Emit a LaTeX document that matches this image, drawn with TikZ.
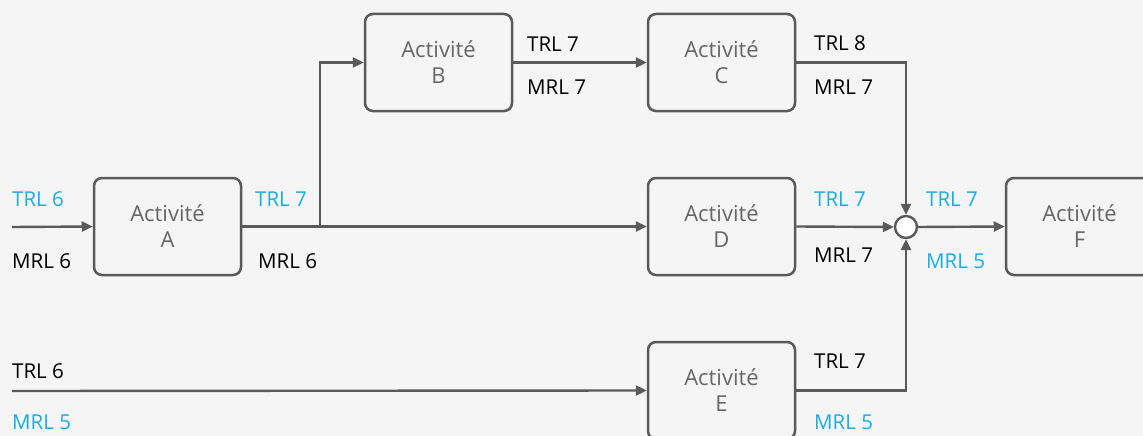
\documentclass[tikz,border=0pt]{standalone}
\usepackage{fontspec}
\setmainfont{Open Sans}
\usetikzlibrary{arrows.meta}
\definecolor{bg}{HTML}{F5F5F5}
\definecolor{ln}{HTML}{5A5A5A}
\definecolor{tx}{HTML}{666666}
\definecolor{bl}{HTML}{1AADE4}
\tikzset{
  act/.style={draw=ln, line width=2.5pt, rounded corners=8pt, fill=bg, minimum width=147pt, minimum height=97pt, inner sep=0pt, align=center, text=tx, font=\fontsize{22}{26}\selectfont},
  lab/.style={anchor=west, inner sep=0pt, font=\fontsize{20.5}{22}\selectfont, text=black},
  blab/.style={lab, text=bl},
  conn/.style={draw=ln, line width=2.4pt, -{Triangle[length=11pt,width=10pt]}},
  junc/.style={circle, draw=ln, line width=2.4pt, fill=white, minimum size=22pt, inner sep=0pt}
}
\begin{document}
\begin{tikzpicture}[x=1pt,y=-1pt]
\fill[bg] (0,0) rectangle (1143,436);
\useasboundingbox (0,0) rectangle (1143,436);
\node[act] (A) at (167.5,226.5) {Activité\\A};
\node[act] (B) at (438.5,62.5) {Activité\\B};
\node[act] (C) at (721.5,62.5) {Activité\\C};
\node[act] (D) at (721.5,226.5) {Activité\\D};
\node[act] (E) at (721.5,390.5) {Activité\\E};
\node[act] (F) at (1079.5,226.5) {Activité\\F};
\node[junc] (J) at (906,227) {};
\coordinate (inA) at (12,227);
\coordinate (inE) at (12,391);
\coordinate (br) at (320,227);
\draw[conn] (inA) -- (A.west);
\draw[conn] (A.east) -- (D.west);
\draw[conn] (br) |- (B.west);
\draw[conn] (B.east) -- (C.west);
\draw[conn] (C.east) -| (J.north);
\draw[conn] (D.east) -- (J.west);
\draw[conn] (inE) -- (E.west);
\draw[conn] (E.east) -| (J.south);
\draw[conn] (J.east) -- (F.west);
\node[blab] (l1) at (12,199) {TRL 6};
\node[lab] (l2) at (12,261) {MRL 6};
\node[blab] (l3) at (255,199) {TRL 7};
\node[lab] (l4) at (258,261) {MRL 6};
\node[lab] (l5) at (527,44) {TRL 7};
\node[lab] (l6) at (527,87) {MRL 7};
\node[lab] (l7) at (814,43) {TRL 8};
\node[lab] (l8) at (814,87) {MRL 7};
\node[blab] (l9) at (814,199) {TRL 7};
\node[lab] (l10) at (814,255) {MRL 7};
\node[blab] (l11) at (926,199) {TRL 7};
\node[blab] (l12) at (926,261) {MRL 5};
\node[lab] (l13) at (12,371) {TRL 6};
\node[blab] (l14) at (12,422) {MRL 5};
\node[lab] (l15) at (814,361) {TRL 7};
\node[blab] (l16) at (814,422) {MRL 5};
\end{tikzpicture}
\end{document}
